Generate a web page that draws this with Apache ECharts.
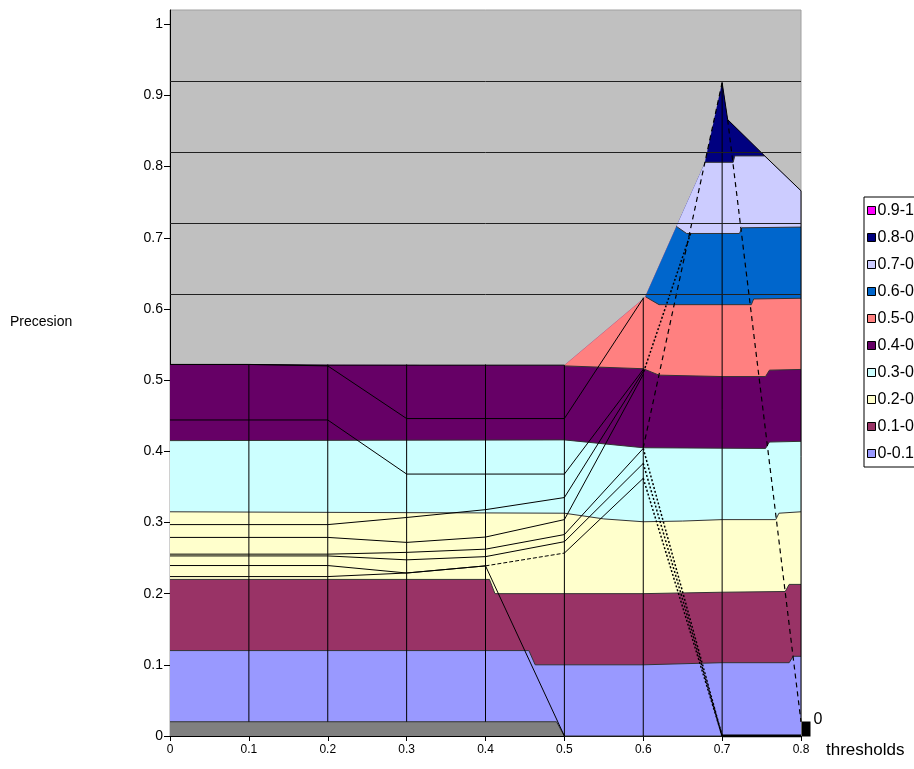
<!DOCTYPE html>
<html>
<head>
<meta charset="utf-8">
<script src="https://cdn.jsdelivr.net/npm/echarts@6/dist/echarts.min.js"></script>
<style>
  html, body { margin: 0; padding: 0; background: #ffffff; }
  #chart { width: 914px; height: 769px; }
</style>
</head>
<body>
<div id="chart"></div>
<script>
// Categories along the horizontal axis and ticks of the precision axis
const thresholds = [0, 0.1, 0.2, 0.3, 0.4, 0.5, 0.6, 0.7, 0.8];
const precisionTicks = [0, 0.1, 0.2, 0.3, 0.4, 0.5, 0.6, 0.7, 0.8, 0.9, 1];
const wallLevels = [0.62, 0.72, 0.82, 0.92];
const depthLabels = ['0'];

// Value bands of the surface, legend order is top to bottom
const bandNames = ['0-0.1', '0.1-0.2', '0.2-0.3', '0.3-0.4', '0.4-0.5', '0.5-0.6', '0.6-0.7', '0.7-0.8', '0.8-0.9', '0.9-1'];
const bandColors = ['#9999ff', '#993366', '#ffffcc', '#ccffff', '#660066', '#ff8080', '#0066cc', '#ccccff', '#000080', '#ff00ff'];
const floorColor = '#808080';
const wallColor = '#c0c0c0';

// Outline of the surface against the back wall
const surfaceTop = [[0, 0.522], [0.5, 0.521], [0.602, 0.616], [0.642, 0.716], [0.678, 0.805], [0.7, 0.918], [0.707, 0.866], [0.754, 0.815], [0.8, 0.766]];

// Lower edge of every colour band
const floorEdge = [[0, 0], [0.8, 0]];
const edge00 = [[0, 0.02], [0.49, 0.02], [0.5, 0], [0.8, 0]];
const edge01 = [[0, 0.12], [0.455, 0.12], [0.463, 0.1], [0.6, 0.1], [0.7, 0.103], [0.785, 0.103], [0.79, 0.112], [0.8, 0.112]];
const edge02 = [[0, 0.22], [0.405, 0.22], [0.412, 0.2], [0.6, 0.2], [0.7, 0.202], [0.78, 0.203], [0.785, 0.213], [0.8, 0.213]];
const edge03 = [[0, 0.315], [0.5, 0.313], [0.55, 0.305], [0.6, 0.301], [0.65, 0.302], [0.7, 0.304], [0.768, 0.304], [0.772, 0.313], [0.8, 0.315]];
const edge04 = [[0, 0.415], [0.5, 0.416], [0.6, 0.405], [0.755, 0.404], [0.76, 0.413], [0.8, 0.414]];
const edge05 = [[0.5, 0.52], [0.6, 0.516], [0.62, 0.507], [0.7, 0.505], [0.755, 0.505], [0.76, 0.514], [0.8, 0.515]];
const edge06 = [[0.603, 0.617], [0.62, 0.606], [0.737, 0.606], [0.74, 0.614], [0.8, 0.615]];
const edge07 = [[0.642, 0.716], [0.655, 0.706], [0.722, 0.706], [0.725, 0.714], [0.8, 0.715]];
const edge08 = [[0.678, 0.806], [0.714, 0.806], [0.716, 0.815], [0.754, 0.815]];
const edge09 = [];
const bandEdges = [edge00, edge01, edge02, edge03, edge04, edge05, edge06, edge07, edge08, edge09];

// Wireframe: height of each cross line at the thresholds
const wireTop = [0.522, 0.522, 0.522, 0.522, 0.522, 0.521, 0.616, 0.918, 0.766];
const wireBottom = [0, 0.02, 0.02, 0.02, 0.02, 0, 0, 0, 0.02];

// Wireframe rows, one value per threshold (null where the row is hidden)
const rowA = [0.522, 0.522, 0.521, 0.521, 0.521, 0.521, null, null, null];
const rowB = [0.522, 0.522, 0.520, 0.446, 0.446, 0.446, 0.615, null, null];
const rowC = [0.444, 0.444, 0.444, 0.368, 0.368, 0.368, 0.515, null, null];
const rowD = [0.297, 0.297, 0.297, 0.307, 0.318, 0.335, 0.512, null, null];
const rowE = [0.279, 0.279, 0.279, 0.272, 0.2795, 0.304, 0.508, null, null];
const rowF = [0.2555, 0.2555, 0.2555, 0.258, 0.2625, 0.283, 0.404, null, null];
const rowG = [0.253, 0.253, 0.253, 0.2475, 0.252, 0.273, 0.383, null, null];
const rowH = [0.2395, 0.2395, 0.2395, 0.229, 0.239, null, null, null, null];
const rowHLink = [null, null, null, null, 0.239, 0.257, null, null, null];
const rowHRise = [null, null, null, null, null, 0.257, 0.362, null, null];
const rowI = [0.224, 0.224, 0.224, 0.229, 0.239, 0, null, null, null];

// Hidden rows seen through the peak
const peakDashes = [
  [[0.7, 0.918], [0.6, 0.405]],
  [[0.707, 0.866], [0.8, 0.02]]
];
const peakDots = [
  [[0.66, 0.706], [0.6, 0.51]],
  [[0.6, 0.404], [0.7, 0]],
  [[0.6, 0.383], [0.7, 0]],
  [[0.6, 0.362], [0.7, 0]]
];
const baseRun = [[0.7, 0], [0.8, 0]];

function interp(line, x) {
  for (let i = 0; i < line.length - 1; i++) {
    const a = line[i], b = line[i + 1];
    if (x >= a[0] && x <= b[0]) {
      if (b[0] === a[0]) return a[1];
      return a[1] + (b[1] - a[1]) * (x - a[0]) / (b[0] - a[0]);
    }
  }
  return x < line[0][0] ? line[0][1] : line[line.length - 1][1];
}

// region between a lower edge and the surface outline
function regionPoints(lower, upper) {
  const xa = lower[0][0], xb = lower[lower.length - 1][0];
  const pts = lower.slice();
  pts.push([xb, interp(upper, xb)]);
  for (let i = upper.length - 1; i >= 0; i--) {
    if (upper[i][0] > xa && upper[i][0] < xb) pts.push(upper[i]);
  }
  pts.push([xa, interp(upper, xa)]);
  return pts;
}

function bandSeries(name, color, lower, stroke) {
  return {
    type: 'custom',
    name: name,
    silent: true,
    z: 2,
    itemStyle: { color: color },
    data: [0],
    renderItem: function (params, api) {
      if (!lower.length) return null;
      const poly = regionPoints(lower, surfaceTop).map(p => api.coord(p));
      const children = [{
        type: 'polygon',
        shape: { points: poly },
        style: { fill: color, stroke: null }
      }];
      if (stroke) {
        children.push({
          type: 'polyline',
          shape: { points: lower.map(p => api.coord(p)) },
          style: { stroke: '#333333', lineWidth: 1, fill: null }
        });
      }
      return { type: 'group', children: children };
    }
  };
}

function rowPoints(row) {
  const pts = [];
  row.forEach((v, i) => { if (v !== null) pts.push([thresholds[i], v]); });
  return pts;
}

function wire(points, type, width) {
  return {
    type: 'line',
    data: points,
    symbol: 'none',
    silent: true,
    z: 3,
    lineStyle: { color: '#000000', width: width || 1, type: type || 'solid', opacity: 1 },
    animation: false
  };
}

const series = [];

// back wall lines
series.push({
  type: 'line',
  data: [],
  silent: true,
  z: 1,
  markLine: {
    silent: true,
    symbol: 'none',
    label: { show: false },
    lineStyle: { color: '#202020', width: 1, type: 'solid' },
    data: wallLevels.map(v => ({ yAxis: v }))
  }
});

// floor then value bands, lowest first
series.push(bandSeries('floor', floorColor, floorEdge, false));
bandNames.forEach((n, i) => series.push(bandSeries(n, bandColors[i], bandEdges[i], true)));

// cross lines of the wireframe
thresholds.forEach((x, i) => {
  if (i === 0) return;
  series.push(wire([[x, wireBottom[i]], [x, wireTop[i]]]));
});

// rows of the wireframe
[rowA, rowB, rowC, rowD, rowE, rowF, rowG, rowH, rowHRise, rowI].forEach(r => series.push(wire(rowPoints(r))));
series.push(wire(rowPoints(rowHLink), 'dashed'));
peakDashes.forEach(p => series.push(wire(p, [5, 4], 1.2)));
peakDots.forEach(p => series.push(wire(p, [2, 2], 1.5)));
series.push(wire(surfaceTop.slice(5)));
series.push(wire(baseRun, 'solid', 3));

// series axis marker
series.push({
  type: 'scatter',
  data: [[0.8, 0]],
  symbol: 'rect',
  symbolSize: [9, 15],
  symbolOffset: [5, -7],
  silent: true,
  z: 4,
  itemStyle: { color: '#000000', opacity: 1 },
  label: {
    show: true,
    formatter: () => depthLabels[0],
    position: 'right',
    distance: 3,
    offset: [0, -9],
    color: '#000000',
    opacity: 1,
    fontSize: 16,
    fontFamily: 'Liberation Sans'
  }
});

const fmt = v => String(Math.round(v * 100) / 100);

const option = {
  animation: false,
  backgroundColor: '#ffffff',
  grid: {
    left: 170, right: 113, top: 10, bottom: 33,
    show: true,
    backgroundColor: wallColor,
    borderColor: '#a0a0a0',
    borderWidth: 1
  },
  legend: {
    orient: 'vertical',
    left: 864,
    top: 197,
    data: bandNames.slice().reverse(),
    icon: 'rect',
    itemWidth: 8,
    itemHeight: 8,
    itemGap: 10,
    padding: [5, 8, 5, 3],
    borderColor: '#000000',
    borderWidth: 1,
    itemStyle: { borderColor: '#000000', borderWidth: 1 },
    textStyle: { fontSize: 16, lineHeight: 17, color: '#000000', fontFamily: 'Liberation Sans', padding: [0, 0, 0, -3] },
    selectedMode: false
  },
  xAxis: {
    type: 'value',
    min: 0,
    max: 0.8,
    interval: 0.1,
    axisLine: { show: true, onZero: false, lineStyle: { color: '#000000', width: 1 } },
    axisTick: { show: true, length: 5, lineStyle: { color: '#000000' } },
    axisLabel: { color: '#000000', fontSize: 12, fontFamily: 'Liberation Sans', margin: 8, formatter: fmt },
    splitLine: { show: false }
  },
  yAxis: {
    type: 'value',
    min: 0,
    max: 1.02,
    axisLine: { show: true, onZero: false, lineStyle: { color: '#000000', width: 1 } },
    axisTick: { show: true, length: 6, customValues: precisionTicks, lineStyle: { color: '#000000' } },
    axisLabel: { color: '#000000', fontSize: 14, fontFamily: 'Liberation Sans', margin: 7, customValues: precisionTicks, formatter: fmt },
    splitLine: { show: false }
  },
  graphic: [
    { type: 'text', left: 10, top: 315, style: { text: 'Precesion', fill: '#000000', font: '14px Liberation Sans' } },
    { type: 'text', left: 826, top: 742, style: { text: 'thresholds', fill: '#000000', font: '17px Liberation Sans' } }
  ],
  series: series
};

const chart = echarts.init(document.getElementById('chart'), null, { renderer: 'canvas' });
chart.setOption(option);
</script>
</body>
</html>
